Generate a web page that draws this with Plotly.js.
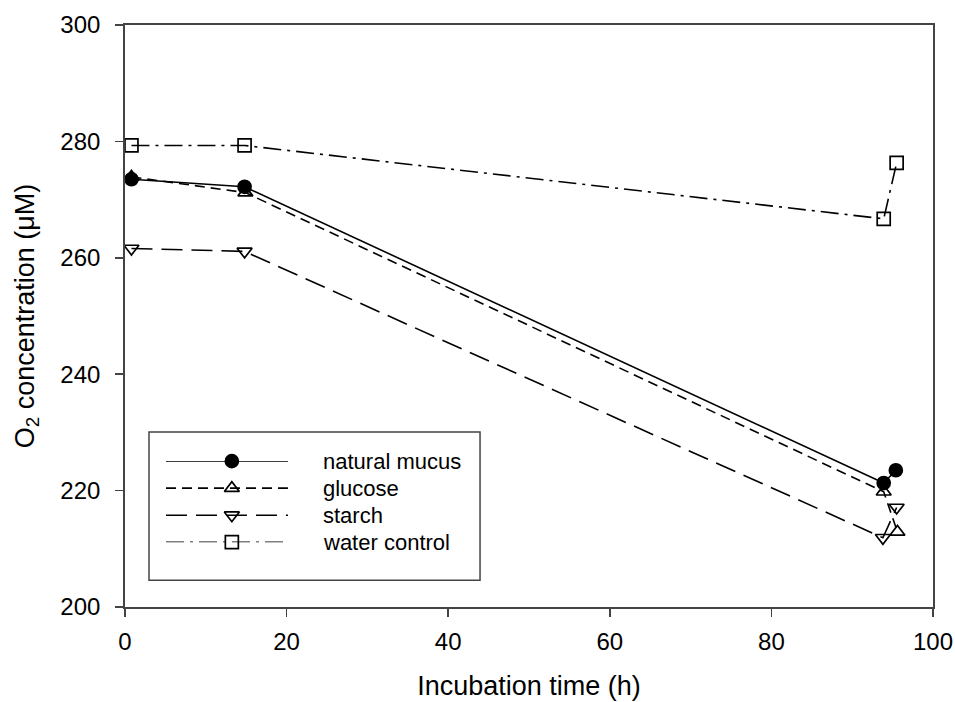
<!DOCTYPE html>
<html>
<head>
<meta charset="utf-8">
<script src="https://cdn.plot.ly/plotly-3.0.1.min.js"></script>
<style>
  html, body { margin: 0; padding: 0; background: #fff; }
  #chart { width: 955px; height: 702px; }
</style>
</head>
<body>
<div id="chart"></div>
<script>
// Oxygen depletion during incubation, four treatments
const seriesNames = ["natural mucus", "glucose", "starch", "water control"];

const timeMucus   = [0.8, 14.8, 93.9, 95.4];
const o2Mucus     = [273.5, 272.2, 221.3, 223.5];

const timeGlucose = [0.8, 14.9, 93.9, 95.6];
const o2Glucose   = [273.9, 271.2, 219.8, 212.9];

const timeStarch  = [0.8, 14.8, 93.8, 95.5];
const o2Starch    = [261.6, 261.1, 211.9, 217.1];

const timeWater   = [0.8, 14.8, 93.9, 95.5];
const o2Water     = [279.3, 279.3, 266.7, 276.3];

const xTicks = [0, 20, 40, 60, 80, 100];
const yTicks = [200, 220, 240, 260, 280, 300];

const ink = "#000";
const axisInk = "#444";
const fontFamily = "Liberation Sans, Arial, sans-serif";

// per-series drawing style
const styles = [
  { dash: "solid",             symbol: "circle" },
  { dash: "10px,6px",          symbol: "triangle-up-open" },
  { dash: "21px,9px",          symbol: "triangle-down-open" },
  { dash: "18px,6px,3px,6px",  symbol: "square-open" }
];

const xs = [timeMucus, timeGlucose, timeStarch, timeWater];
const ys = [o2Mucus, o2Glucose, o2Starch, o2Water];

const traces = [];
for (let i = 0; i < seriesNames.length; i++) {
  traces.push({
    type: "scatter",
    mode: "lines+markers",
    name: seriesNames[i],
    x: xs[i],
    y: ys[i],
    line: { color: ink, width: 1.6, dash: styles[i].dash },
    marker: {
      symbol: styles[i].symbol,
      size: 13,
      opacity: 1,
      color: ink,
      line: { color: ink, width: 1.7 }
    },
    cliponaxis: false,
    showlegend: false,
    hoverinfo: "x+y+name"
  });
}

// hand-built key: each row is a short line sample with the marker at its middle
const keyLegend = [];
for (let i = 0; i < seriesNames.length; i++) {
  traces.push({
    type: "scatter",
    mode: "lines+markers",
    xaxis: "x2",
    yaxis: "y2",
    x: [0, 0.54, 1],
    y: [i, i, i],
    line: { color: ink, width: 1.6, dash: styles[i].dash },
    marker: {
      symbol: styles[i].symbol,
      size: [0, 13, 0],
      opacity: 1,
      color: ink,
      line: { color: ink, width: 1.7 }
    },
    cliponaxis: false,
    showlegend: false,
    hoverinfo: "skip"
  });
  keyLegend.push({
    xref: "paper", yref: "y2",
    x: 0.2426, y: i,
    xanchor: "left", yanchor: "middle",
    text: seriesNames[i],
    showarrow: false,
    font: { family: fontFamily, size: 22, color: ink }
  });
}

const layout = {
  width: 955,
  height: 702,
  margin: { l: 125, r: 22, t: 25, b: 95 },
  paper_bgcolor: "#fff",
  plot_bgcolor: "rgba(0,0,0,0)",
  font: { family: fontFamily, color: ink },
  showlegend: false,
  xaxis: {
    range: [0, 100],
    tickvals: xTicks,
    ticktext: xTicks.map(String),
    ticks: "outside",
    ticklen: 8,
    tickwidth: 1.5,
    tickcolor: axisInk,
    ticklabelstandoff: 4,
    showline: true,
    linecolor: axisInk,
    linewidth: 1.8,
    mirror: true,
    showgrid: false,
    zeroline: false,
    tickfont: { family: fontFamily, size: 24, color: ink },
    title: {
      text: "Incubation time (h)",
      font: { family: fontFamily, size: 27, color: ink },
      standoff: 22
    }
  },
  yaxis: {
    range: [200, 300],
    tickvals: yTicks,
    ticktext: yTicks.map(String),
    ticks: "outside",
    ticklen: 8,
    tickwidth: 1.5,
    tickcolor: axisInk,
    ticklabelstandoff: 10,
    showline: true,
    linecolor: axisInk,
    linewidth: 1.8,
    mirror: true,
    showgrid: false,
    zeroline: false,
    tickfont: { family: fontFamily, size: 24, color: ink },
    title: {
      text: "O<sub>2</sub> concentration (μM)",
      font: { family: fontFamily, size: 27, color: ink },
      standoff: 18
    }
  },
  xaxis2: {
    domain: [0.0507, 0.2017],
    range: [0, 1],
    anchor: "y2",
    visible: false,
    fixedrange: true
  },
  yaxis2: {
    domain: [0.1113, 0.2506],
    range: [3, 0],
    anchor: "x2",
    visible: false,
    fixedrange: true
  },
  shapes: [{
    type: "rect",
    xref: "paper", yref: "paper",
    x0: 0.0297, x1: 0.4394, y0: 0.0459, y1: 0.3005,
    line: { color: axisInk, width: 1.5 },
    fillcolor: "rgba(0,0,0,0)",
    layer: "below"
  }],
  annotations: keyLegend
};

Plotly.newPlot("chart", traces, layout, { displayModeBar: false, staticPlot: true });
</script>
</body>
</html>
